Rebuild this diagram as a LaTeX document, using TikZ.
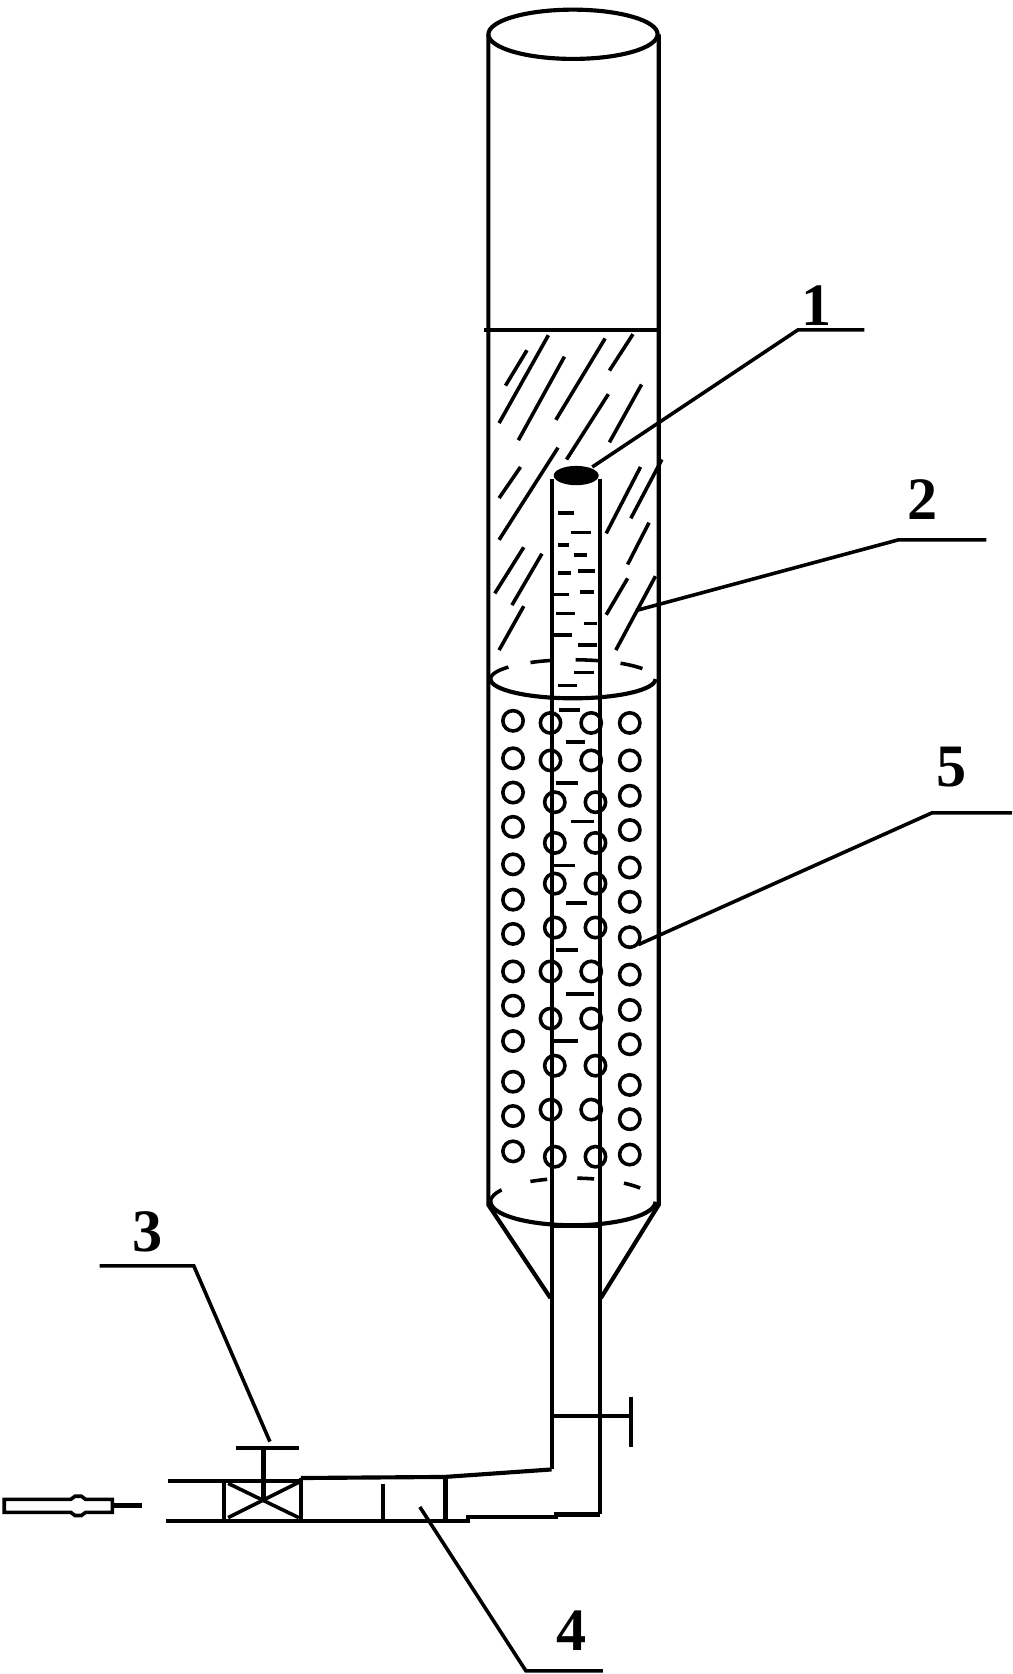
\documentclass[tikz,border=0pt]{standalone}
\usepackage{fontspec}
\setmainfont{Liberation Serif}
\usetikzlibrary{positioning, shapes.geometric}

\tikzset{
  wall/.style={line width=2.2pt},
  thin wall/.style={line width=1.9pt},
  bubble/.style={circle, draw, line width=1.9pt, minimum size=0.38cm, inner sep=0pt},
  numlabel/.style={font=\fontsize{32}{36}\selectfont\bfseries, inner sep=0pt},
}

\begin{document}
\begin{tikzpicture}[x=0.02cm, y=-0.02cm]

\useasboundingbox (0,0) rectangle (945,1563);

% column
\draw[wall] (535,32) ellipse [x radius=79, y radius=23];
\draw[wall] (456,32) -- (456,1125) -- (514,1212);
\draw[wall] (615,32) -- (615,1125) -- (561,1212);
\draw[wall] (452,308) -- (615,308);

% bed limits
\draw[thin wall, dash pattern=on 12pt off 12pt] (458,634) arc [start angle=180, end angle=360, x radius=77, y radius=18];
\draw[wall] (458,634) arc [start angle=180, end angle=0, x radius=77, y radius=18];
\draw[thin wall, dash pattern=on 9pt off 16pt] (458,1122) arc [start angle=180, end angle=360, x radius=77, y radius=22];
\draw[wall] (458,1122) arc [start angle=180, end angle=0, x radius=77, y radius=22];

% hatching
\foreach \xa/\ya/\xb/\yb in {
  472/360/492/327, 466/395/512/313, 484/411/527/333, 519/392/565/316,
  569/346/591/312, 569/413/599/359, 529/429/568/368, 466/465/486/436,
  466/504/521/418, 566/498/598/436, 589/484/618/429, 586/527/606/488,
  462/554/489/511, 478/565/506/517, 466/607/489/566, 566/574/586/540,
  575/607/612/538}
  \draw[thin wall] (\xa,\ya) -- (\xb,\yb);

% inner tube
\draw[wall] (515,447) -- (515,1372);
\draw[wall] (560,447) -- (560,1414);
\draw[wall] (515,1145) -- (560,1145);
\node (cap)[ellipse, fill=black, minimum width=0.84cm, minimum height=0.36cm, inner sep=0pt] at (538,444) {};

% liquid marks in the tube
\foreach \ya/\xa/\xb in {
  479/521/536, 497/533/552, 509/521/531, 518/536/548, 533/540/556,
  535/521/533, 553/542/555, 555/516/531, 573/519/537, 582/545/557,
  593/516/534, 602/540/557, 628/536/555, 640/521/539, 663/522/542,
  693/528/546, 731/519/540, 767/533/555, 808/516/537, 843/528/548,
  887/519/540, 928/528/555, 972/516/540}
  \draw[thin wall] (\xa,\ya) -- (\xb,\ya);

% bubbles
\foreach \yy [count=\i] in {673,708,740,772,807,840,872,907,939,972,1010,1042,1075}
  \node (ba\i)[bubble] at (479,\yy) {};
\foreach \yy [count=\i] in {675,710,743,775,810,842,875,910,943,975,1013,1045,1078}
  \node (bd\i)[bubble] at (588,\yy) {};
\foreach \xx/\xy/\yy [count=\i] in {
  514/552/675, 514/552/710, 518/556/749, 518/556/787, 518/556/825,
  518/556/866, 514/552/907, 514/552/951, 518/556/995, 514/552/1036, 518/556/1080}
{
  \node (bb\i)[bubble] at (\xx,\yy) {};
  \node (bc\i)[bubble] at (\xy,\yy) {};
}

% feed pipe
\draw[wall] (515,1372) -- (415,1379) -- (281,1380);
\draw[wall] (281,1383) -- (157,1383);
\draw[wall] (155,1420) -- (437,1420) -- (437,1416) -- (519,1416) -- (519,1414) -- (560,1414);
\draw[wall] (209,1383) -- (209,1420);
\draw[wall] (281,1380) -- (281,1420);
\draw[wall] (358,1386) -- (358,1420);
\draw[wall] (416,1379) -- (416,1420);

% drain on the tube
\draw[wall] (515,1322) -- (589,1322);
\draw[wall] (589,1304) -- (589,1351);

% valve
\draw[thin wall] (213,1417) -- (279,1384);
\draw[thin wall] (213,1385) -- (279,1417);
\draw[wall] (246,1352) -- (246,1400);
\draw[line width=2.6pt] (220,1352) -- (279,1352);

% inlet arrow
\draw[thin wall] (4,1400) -- (66,1400) -- (70,1397) -- (76,1397) -- (80,1400) -- (105,1400) -- (105,1412)
  -- (80,1412) -- (76,1415) -- (70,1415) -- (66,1412) -- (4,1412) -- cycle;
\draw[line width=2.6pt] (105,1406) -- (133,1406);

% numbers
\node (n1)[numlabel] at (762,285) {1};
\node (n2)[numlabel] at (861,466) {2};
\node (n3)[numlabel] at (138,1150) {3};
\node (n4)[numlabel] at (534,1523) {4};
\node (n5)[numlabel] at (888,716) {5};

% leaders
\coordinate (l1a) at (807,308);
\coordinate (l1b) at (745,308);
\coordinate (l1c) at (553,436);
\draw[thin wall] (l1a) -- (l1b) -- (l1c);
\coordinate (l2a) at (921,504);
\coordinate (l2b) at (839,504);
\coordinate (l2c) at (594,570);
\draw[thin wall] (l2a) -- (l2b) -- (l2c);
\coordinate (l5a) at (945,759);
\coordinate (l5b) at (870,759);
\coordinate (l5c) at (596,882);
\draw[thin wall] (l5a) -- (l5b) -- (l5c);
\coordinate (l3a) at (93,1182);
\coordinate (l3b) at (181,1182);
\coordinate (l3c) at (252,1346);
\draw[thin wall] (l3a) -- (l3b) -- (l3c);
\coordinate (l4a) at (563,1560);
\coordinate (l4b) at (491,1560);
\coordinate (l4c) at (392,1407);
\draw[thin wall] (l4a) -- (l4b) -- (l4c);

\end{tikzpicture}
\end{document}
